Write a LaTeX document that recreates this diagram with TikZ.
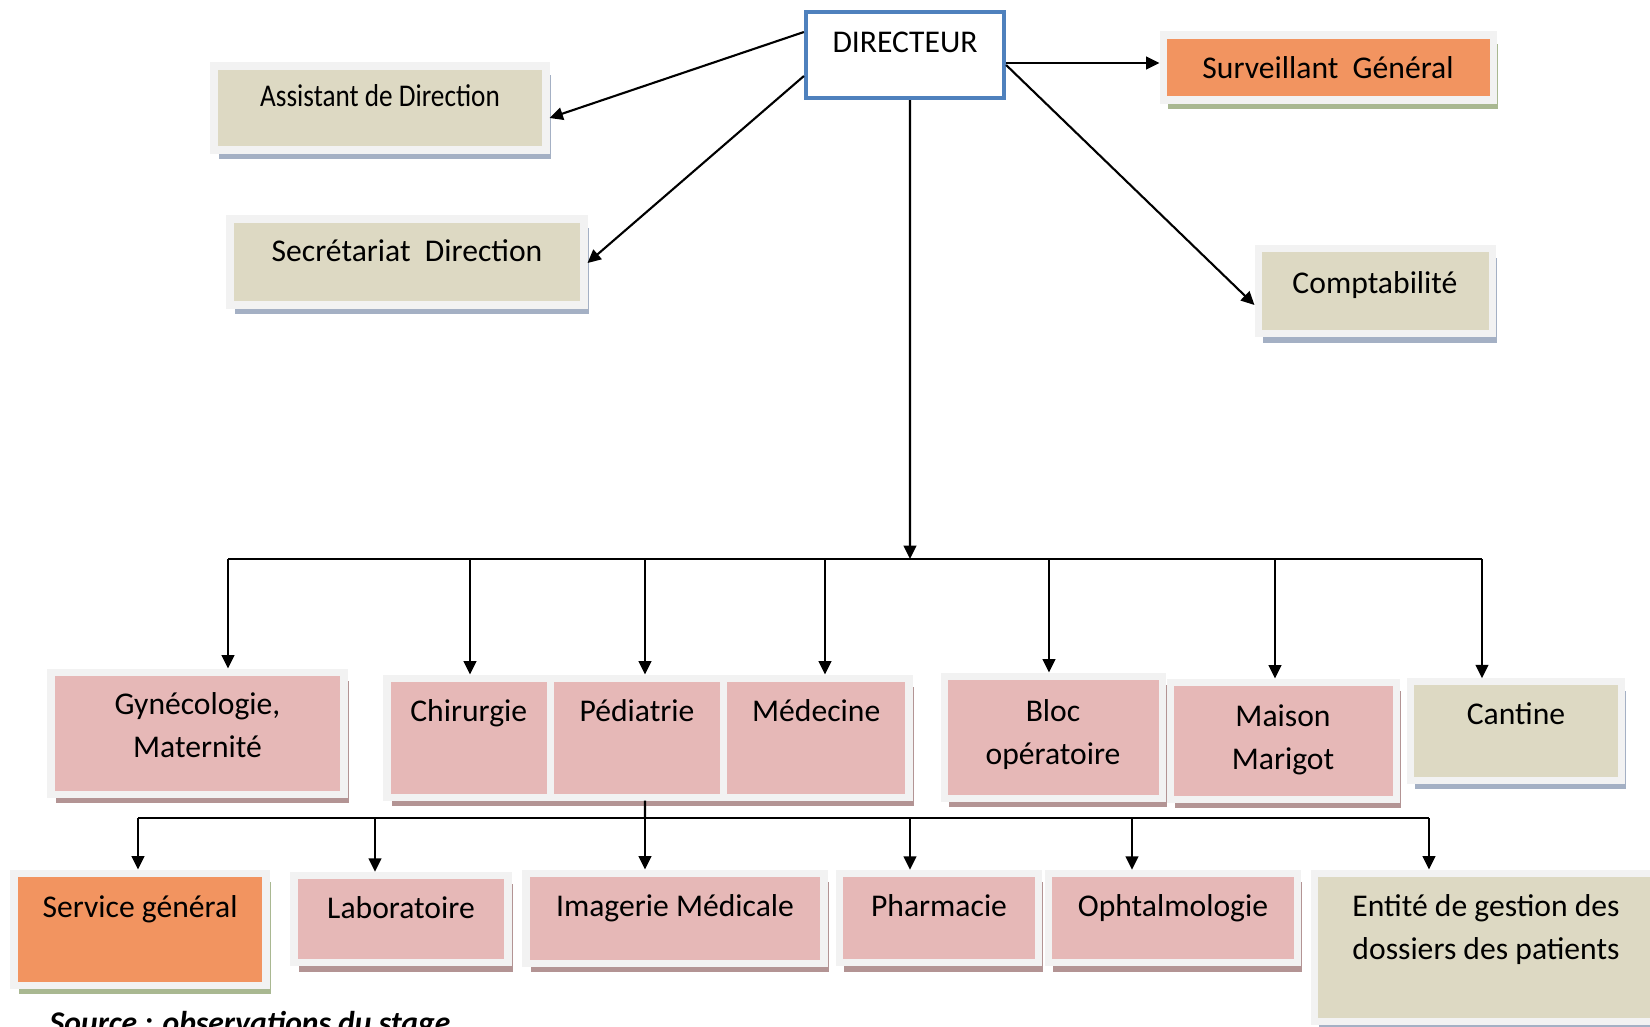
\documentclass[tikz,border=0pt]{standalone}
\usepackage{fontspec}
\setmainfont{Carlito}
\newfontfamily\narrowfont[FakeStretch=0.86]{Carlito}
\usetikzlibrary{arrows.meta,shadows}

\definecolor{frame}{HTML}{F2F2F2}
\definecolor{rose}{HTML}{E6B8B7}
\definecolor{sand}{HTML}{DDD9C3}
\definecolor{peach}{HTML}{F29460}
\definecolor{blueline}{HTML}{4F81BD}
\definecolor{roseshade}{HTML}{B39494}
\definecolor{sandshade}{HTML}{A4B0C4}
\definecolor{peachshade}{HTML}{A9B891}

\tikzset{
  unit/.style={rectangle, draw=frame, line width=2pt, inner sep=0pt, align=flush center},
  ward/.style={unit, fill=rose, general shadow={fill=roseshade, shadow xshift=1.3pt, shadow yshift=-2.6pt}},
  office/.style={unit, fill=sand, general shadow={fill=sandshade, shadow xshift=1.3pt, shadow yshift=-2.6pt}},
  chief/.style={unit, fill=peach, general shadow={fill=peachshade, shadow xshift=1.3pt, shadow yshift=-2.6pt}},
  head/.style={rectangle, draw=blueline, line width=1.2pt, fill=white, inner sep=0pt, align=flush center},
  conn/.style={line width=0.6pt, -{Triangle[length=3.8pt,width=3.6pt]}},
  bus/.style={line width=0.6pt}
}

\begin{document}
\begin{tikzpicture}[x=0.1mm, y=-0.1mm, font=\fontsize{9}{12.5}\selectfont]
\useasboundingbox (0,0) rectangle (1650,1026);

% direction
\node[head, text width=19.8mm, text height=4mm, text depth=4.6mm] (dir) at (905,55) {DIRECTEUR};
\node[office, text width=33.2mm, text height=4mm, text depth=4.4mm] (asst) at (380,108) {\narrowfont Assistant de Direction};
\node[office, text width=35.4mm, text height=4.2mm, text depth=4.4mm] (secr) at (407,262) {Secrétariat~~Direction};
\node[chief, text width=33mm, text height=4.3mm, text depth=2.2mm] (surv) at (1328,67.5) {Surveillant~~Général};
\node[office, text width=23.4mm, text height=4.45mm, text depth=4.05mm] (compt) at (1375,291) {Comptabilité};

% services
\node[ward, text width=29.3mm, text height=4.2mm, text depth=8mm] (gyn) at (197.5,733) {Gynécologie,\\Maternité};
\node[ward, text width=16.35mm, text height=4.3mm, text depth=7.6mm] (chir) at (468.75,737.5) {Chirurgie};
\node[ward, text width=17.3mm, text height=4.3mm, text depth=7.6mm] (ped) at (637,737.5) {Pédiatrie};
\node[ward, text width=18.55mm, text height=4.3mm, text depth=7.6mm] (med) at (816.25,737.5) {Médecine};
\node[ward, text width=21.8mm, text height=4.5mm, text depth=7.7mm] (bloc) at (1053,737) {Bloc\\opératoire};
\node[ward, text width=22.6mm, text height=4.4mm, text depth=7.3mm] (mais) at (1283,740.5) {Maison\\Marigot};
\node[office, text width=21.1mm, text height=4.3mm, text depth=5.55mm] (cant) at (1516,731) {Cantine};

% second row
\node[chief, text width=25.2mm, text height=4.4mm, text depth=6.8mm] (serv) at (140,929) {Service général};
\node[ward, text width=21.4mm, text height=4.35mm, text depth=4.4mm] (labo) at (401,919) {Laboratoire};
\node[ward, text width=29.8mm, text height=4.3mm, text depth=4.7mm] (imag) at (675,918) {Imagerie Médicale};
\node[ward, text width=19.9mm, text height=4.3mm, text depth=4.65mm] (phar) at (939,918) {Pharmacie};
\node[ward, text width=24.9mm, text height=4.3mm, text depth=4.65mm] (opht) at (1173,918) {Ophtalmologie};
\node[office, text width=34.4mm, text height=4.3mm, text depth=10.5mm] (ent) at (1486,947) {Entité de gestion des\\dossiers des patients};

\node[anchor=base west, inner sep=0pt] (src) at (49,1033) {\bfseries\itshape Source : observations du stage};

% liaisons
\coordinate (hub) at (910,559);
\coordinate (hub2) at (645,818);

\draw[conn] ([yshift=2.3mm]dir.west) -- ([yshift=-1mm]asst.east);
\draw[conn] ([yshift=-2.1mm]dir.west) -- ([yshift=-0.1mm]secr.east);
\draw[conn] ([yshift=-0.8mm]dir.east) -- ([yshift=-0.8mm]dir.east -| surv.west);
\draw[conn] ([yshift=-1mm]dir.east) -- ([yshift=-1.4mm]compt.west);
\draw[conn] ([xshift=0.5mm]dir.south) -- (hub);

\draw[bus] ([xshift=3.05mm]gyn.north |- hub) -- ([xshift=-3.4mm]cant.north |- hub);
\foreach \n/\s in {gyn/3.05, chir/0.12, ped/0.8, med/0.87, bloc/-0.4, mais/-0.8, cant/-3.4} {
  \draw[conn] ([xshift=\s mm]\n.north |- hub) -- ([xshift=\s mm]\n.north);
}

\draw[bus] ([xshift=0.8mm]ped.south) -- (hub2);
\draw[bus] ([xshift=-0.2mm]serv.north |- hub2) -- ([xshift=-5.7mm]ent.north |- hub2);
\foreach \n/\s in {serv/-0.2, labo/-2.6, imag/-3, phar/-2.9, opht/-4.1, ent/-5.7} {
  \draw[conn] ([xshift=\s mm]\n.north |- hub2) -- ([xshift=\s mm]\n.north);
}
\end{tikzpicture}
\end{document}
